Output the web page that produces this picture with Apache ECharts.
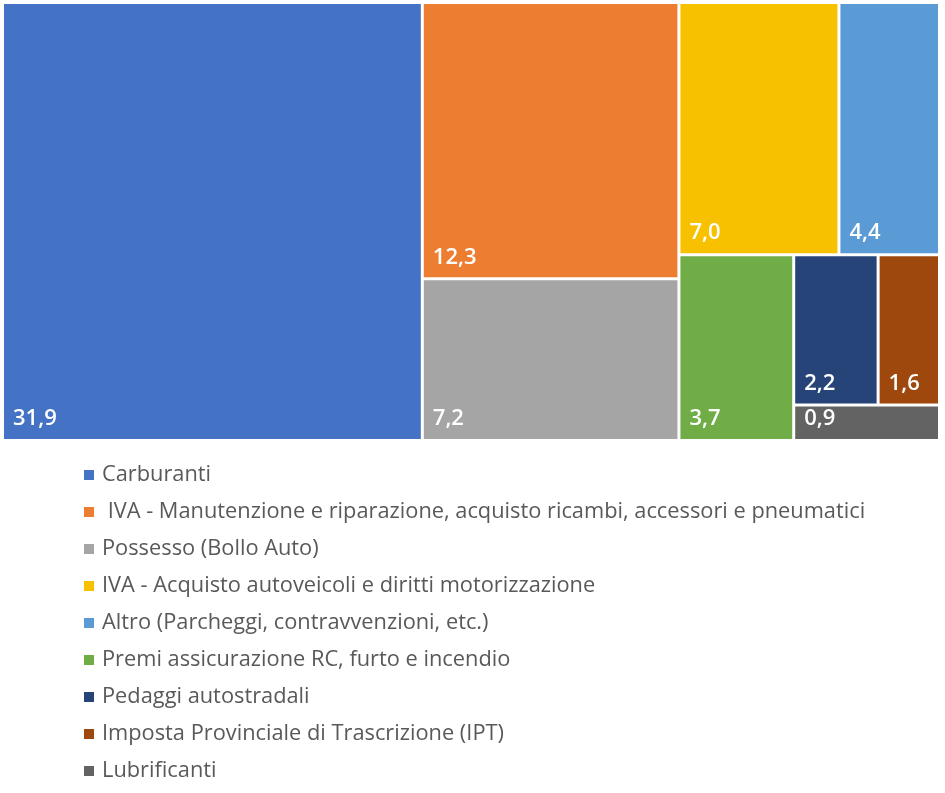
<!DOCTYPE html>
<html>
<head>
<meta charset="utf-8">
<script src="https://cdn.jsdelivr.net/npm/echarts@6/dist/echarts.min.js"></script>
<style>
  html, body { margin: 0; padding: 0; background: #fff; }
  #chart { width: 945px; height: 793px; }
</style>
</head>
<body>
<div id="chart"></div>
<script>
// voci di spesa (miliardi di euro)
var categories = [
    'Carburanti',
    ' IVA - Manutenzione e riparazione, acquisto ricambi, accessori e pneumatici',
    'Possesso (Bollo Auto)',
    'IVA - Acquisto autoveicoli e diritti motorizzazione',
    'Altro (Parcheggi, contravvenzioni, etc.)',
    'Premi assicurazione RC, furto e incendio',
    'Pedaggi autostradali',
    'Imposta Provinciale di Trascrizione (IPT)',
    'Lubrificanti'
];
var values = [31.9, 12.3, 7.2, 7.0, 4.4, 3.7, 2.2, 1.6, 0.9];
var colors = ['#4472c4', '#ed7d31', '#a5a5a5', '#f8c100', '#5b9bd5', '#70ad47', '#264478', '#9e480e', '#636363'];

var chart = echarts.init(document.getElementById('chart'));

var treeData = categories.map(function (name, i) {
    return { name: name, value: values[i], itemStyle: { color: colors[i] } };
});

chart.setOption({
    animation: false,
    legend: {
        orient: 'vertical',
        left: 79,
        top: 459,
        height: 330,
        icon: 'rect',
        itemWidth: 10,
        itemHeight: 10,
        itemGap: 15,
        selectedMode: false,
        data: categories,
        textStyle: {
            fontFamily: 'Open Sans',
            fontSize: 21.8,
            color: '#595959',
            padding: [0, 0, 0, 3]
        }
    },
    series: [
        {
            type: 'treemap',
            left: 4,
            top: 4,
            width: 934,
            height: 435,
            roam: false,
            nodeClick: false,
            squareRatio: 1.25,
            breadcrumb: { show: false },
            itemStyle: { borderWidth: 0, gapWidth: 3 },
            label: {
                show: true,
                position: 'insideBottomLeft',
                distance: 4,
                fontFamily: 'Open Sans',
                fontSize: 22,
                fontWeight: 600,
                color: '#fff',
                formatter: function (p) {
                    return p.value.toFixed(1).replace('.', ',');
                }
            },
            data: treeData
        },
        {
            // serie vuota solo per la legenda
            type: 'pie',
            radius: [0, 0],
            silent: true,
            label: { show: false },
            labelLine: { show: false },
            data: categories.map(function (name, i) {
                return { name: name, value: values[i], itemStyle: { color: colors[i] } };
            })
        }
    ]
});
</script>
</body>
</html>
